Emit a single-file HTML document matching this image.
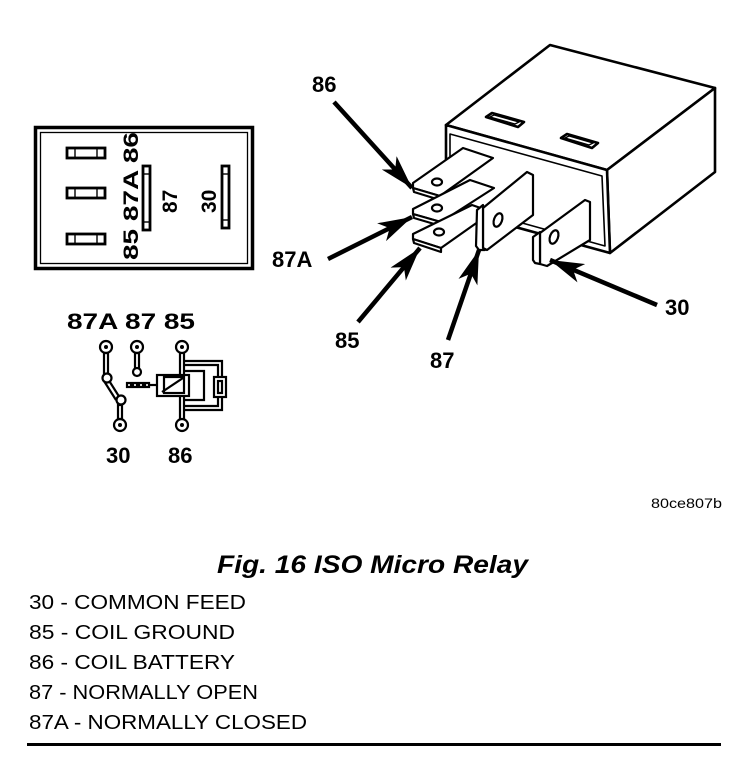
<!DOCTYPE html>
<html><head><meta charset="utf-8"><style>
html,body{margin:0;padding:0;background:#fff;}
svg{display:block;}
text{font-family:"Liberation Sans",sans-serif;fill:#000;}
.b{font-weight:bold;}
</style></head><body>
<svg width="752" height="760" viewBox="0 0 752 760" xmlns="http://www.w3.org/2000/svg">
<defs>
<marker id="ah" viewBox="0 0 34 20" refX="34" refY="10" markerWidth="34" markerHeight="20" markerUnits="userSpaceOnUse" orient="auto">
<path d="M0,0 L34,10 L0,20 L9,10 Z" fill="#000"/>
</marker>
</defs>

<rect x="35.5" y="127.5" width="217" height="141" fill="none" stroke="#000" stroke-width="3.5"/>
<rect x="40.5" y="132.5" width="207" height="131" fill="none" stroke="#000" stroke-width="1.3"/>
<g fill="#fff" stroke="#000" stroke-width="2.8">
<rect x="67" y="148" width="38" height="10"/>
<rect x="67" y="188" width="38" height="10"/>
<rect x="67" y="234" width="38" height="10"/>
<rect x="143" y="166" width="7" height="64"/>
<rect x="222" y="166" width="7" height="62"/>
</g>
<g stroke="#000" stroke-width="1.4">
<line x1="75" y1="148" x2="75" y2="158"/><line x1="97" y1="148" x2="97" y2="158"/>
<line x1="75" y1="188" x2="75" y2="198"/><line x1="97" y1="188" x2="97" y2="198"/>
<line x1="75" y1="234" x2="75" y2="244"/><line x1="97" y1="234" x2="97" y2="244"/>
<line x1="143" y1="174" x2="150" y2="174"/><line x1="143" y1="222" x2="150" y2="222"/>
<line x1="222" y1="174" x2="229" y2="174"/><line x1="222" y1="220" x2="229" y2="220"/>
</g>
<text class="b" font-size="21" transform="translate(138,260) rotate(-90)" textLength="128" lengthAdjust="spacingAndGlyphs">85 87A 86</text>
<text class="b" font-size="21" transform="translate(177,213) rotate(-90)">87</text>
<text class="b" font-size="21" transform="translate(216,213) rotate(-90)">30</text>

<text class="b" font-size="22" x="67" y="329" textLength="128" lengthAdjust="spacingAndGlyphs">87A 87 85</text>
<text class="b" font-size="22" x="106" y="463">30</text>
<text class="b" font-size="22" x="168" y="463">86</text>
<g fill="#fff" stroke="#000" stroke-width="2.2">
<circle cx="106" cy="347" r="6"/><circle cx="137" cy="347" r="6"/><circle cx="182" cy="347" r="6"/>
<circle cx="120" cy="425" r="6"/><circle cx="182" cy="425" r="6"/>
</g>
<g fill="#000"><circle cx="106" cy="347" r="2"/><circle cx="137" cy="347" r="2"/><circle cx="182" cy="347" r="2"/><circle cx="120" cy="425" r="2"/><circle cx="182" cy="425" r="2"/></g>
<g fill="none" stroke="#000" stroke-width="2.2">
<rect x="104" y="353" width="4" height="22"/>
<rect x="135" y="353" width="4" height="17"/>
<rect x="118" y="405" width="4" height="14"/>
<path d="M108,379 L120,398"/><path d="M104,381 L116,400"/>
<circle cx="107" cy="378" r="4.5" fill="#fff"/>
<circle cx="137" cy="372" r="4" fill="#fff"/>
<circle cx="121" cy="400" r="4.5" fill="#fff"/>
<rect x="127" y="383" width="4" height="4"/><rect x="133" y="383" width="4" height="4"/><rect x="139" y="383" width="4" height="4"/><rect x="145" y="383" width="4" height="4"/>
<path d="M150,385 L157,385"/>
<rect x="157" y="375" width="32" height="21" fill="#fff"/>
<path d="M162,392 L183,378"/>
<rect x="164" y="377" width="20" height="16"/>
<path d="M180,353 L180,375 M184,353 L184,375"/>
<path d="M180,396 L180,419 M184,396 L184,419"/>
<path d="M184,361 L222,361 L222,410 L184,410"/>
<path d="M184,365 L218,365 L218,406 L184,406"/>
<path d="M184,371 L204,371 L204,400 L184,400"/>
<rect x="214" y="377" width="12" height="20" fill="#fff"/>
<rect x="218" y="381" width="4" height="12"/>
</g>

<g fill="#fff" stroke="#000" stroke-width="2.6" stroke-linejoin="round">
<polygon points="446,125 550,45 715,88 607,170"/>
<polygon points="607,170 715,88 715,172 610,253"/>
<polygon points="446,125 607,170 610,253 446,208"/>
<polygon points="450,134 602,176 605,246 450,203" stroke-width="1.6"/>
<polygon points="486,117 492,113 524,122 518,127"/>
<polygon points="561,138 567,134 598,143 592,148"/>
</g>
<g fill="none" stroke="#000" stroke-width="1.3">
<polygon points="490,117 494,115 519,122 515,124"/>
<polygon points="565,138 569,136 593,143 589,145"/>
</g>
<g fill="#fff" stroke="#000" stroke-width="2.2" stroke-linejoin="round">
<polygon points="463,148 493,158 440,196 413,188 413,183"/>
<polygon points="413,188 440,196 440,200 414,192"/>
<polygon points="470,180 494,188 441,222 413,214 413,209"/>
<polygon points="413,214 441,222 441,226 414,218"/>
<polygon points="472,205 492,212 441,248 413,239 413,234"/>
<polygon points="413,239 441,248 441,252 414,243"/>
<ellipse cx="437" cy="182" rx="5" ry="3.5"/>
<ellipse cx="437" cy="208" rx="5" ry="3.5"/>
<ellipse cx="439" cy="232" rx="5" ry="3.5"/>
<polygon points="527,172 533,175 533,215 487,250 483,248 483,208"/>
<polygon points="477,210 483,205 483,248 485,250 479,250 476,246"/>
<polygon points="585,200 590,202 590,240 547,266 540,264 540,233"/>
<polygon points="533,237 540,232 540,264 535,263 533,260"/>
<ellipse cx="498" cy="220" rx="4" ry="7" transform="rotate(20 498 220)"/>
<ellipse cx="554" cy="237" rx="4" ry="7" transform="rotate(20 554 237)"/>
</g>

<g stroke="#000" stroke-width="4.5" marker-end="url(#ah)">
<line x1="334" y1="102" x2="412" y2="188"/>
<line x1="328" y1="259" x2="412" y2="217"/>
<line x1="358" y1="322" x2="420" y2="248"/>
<line x1="448" y1="340" x2="479" y2="250"/>
<line x1="657" y1="305" x2="550" y2="260"/>
</g>
<text class="b" font-size="22" x="312" y="92">86</text>
<text class="b" font-size="22" x="272" y="267">87A</text>
<text class="b" font-size="22" x="335" y="348">85</text>
<text class="b" font-size="22" x="430" y="368">87</text>
<text class="b" font-size="22" x="665" y="315">30</text>

<text font-size="14" x="651" y="508" textLength="71" lengthAdjust="spacingAndGlyphs">80ce807b</text>
<text class="b" font-size="25" font-style="italic" x="217" y="573" textLength="311" lengthAdjust="spacingAndGlyphs">Fig. 16 ISO Micro Relay</text>
<g font-size="20">
<text x="29" y="609" textLength="217" lengthAdjust="spacingAndGlyphs">30 - COMMON FEED</text>
<text x="29" y="639" textLength="206" lengthAdjust="spacingAndGlyphs">85 - COIL GROUND</text>
<text x="29" y="669" textLength="206" lengthAdjust="spacingAndGlyphs">86 - COIL BATTERY</text>
<text x="29" y="699" textLength="229" lengthAdjust="spacingAndGlyphs">87 - NORMALLY OPEN</text>
<text x="29" y="729" textLength="278" lengthAdjust="spacingAndGlyphs">87A - NORMALLY CLOSED</text>
</g>
<rect x="27" y="743" width="694" height="3" fill="#000"/>
</svg>
</body></html>
